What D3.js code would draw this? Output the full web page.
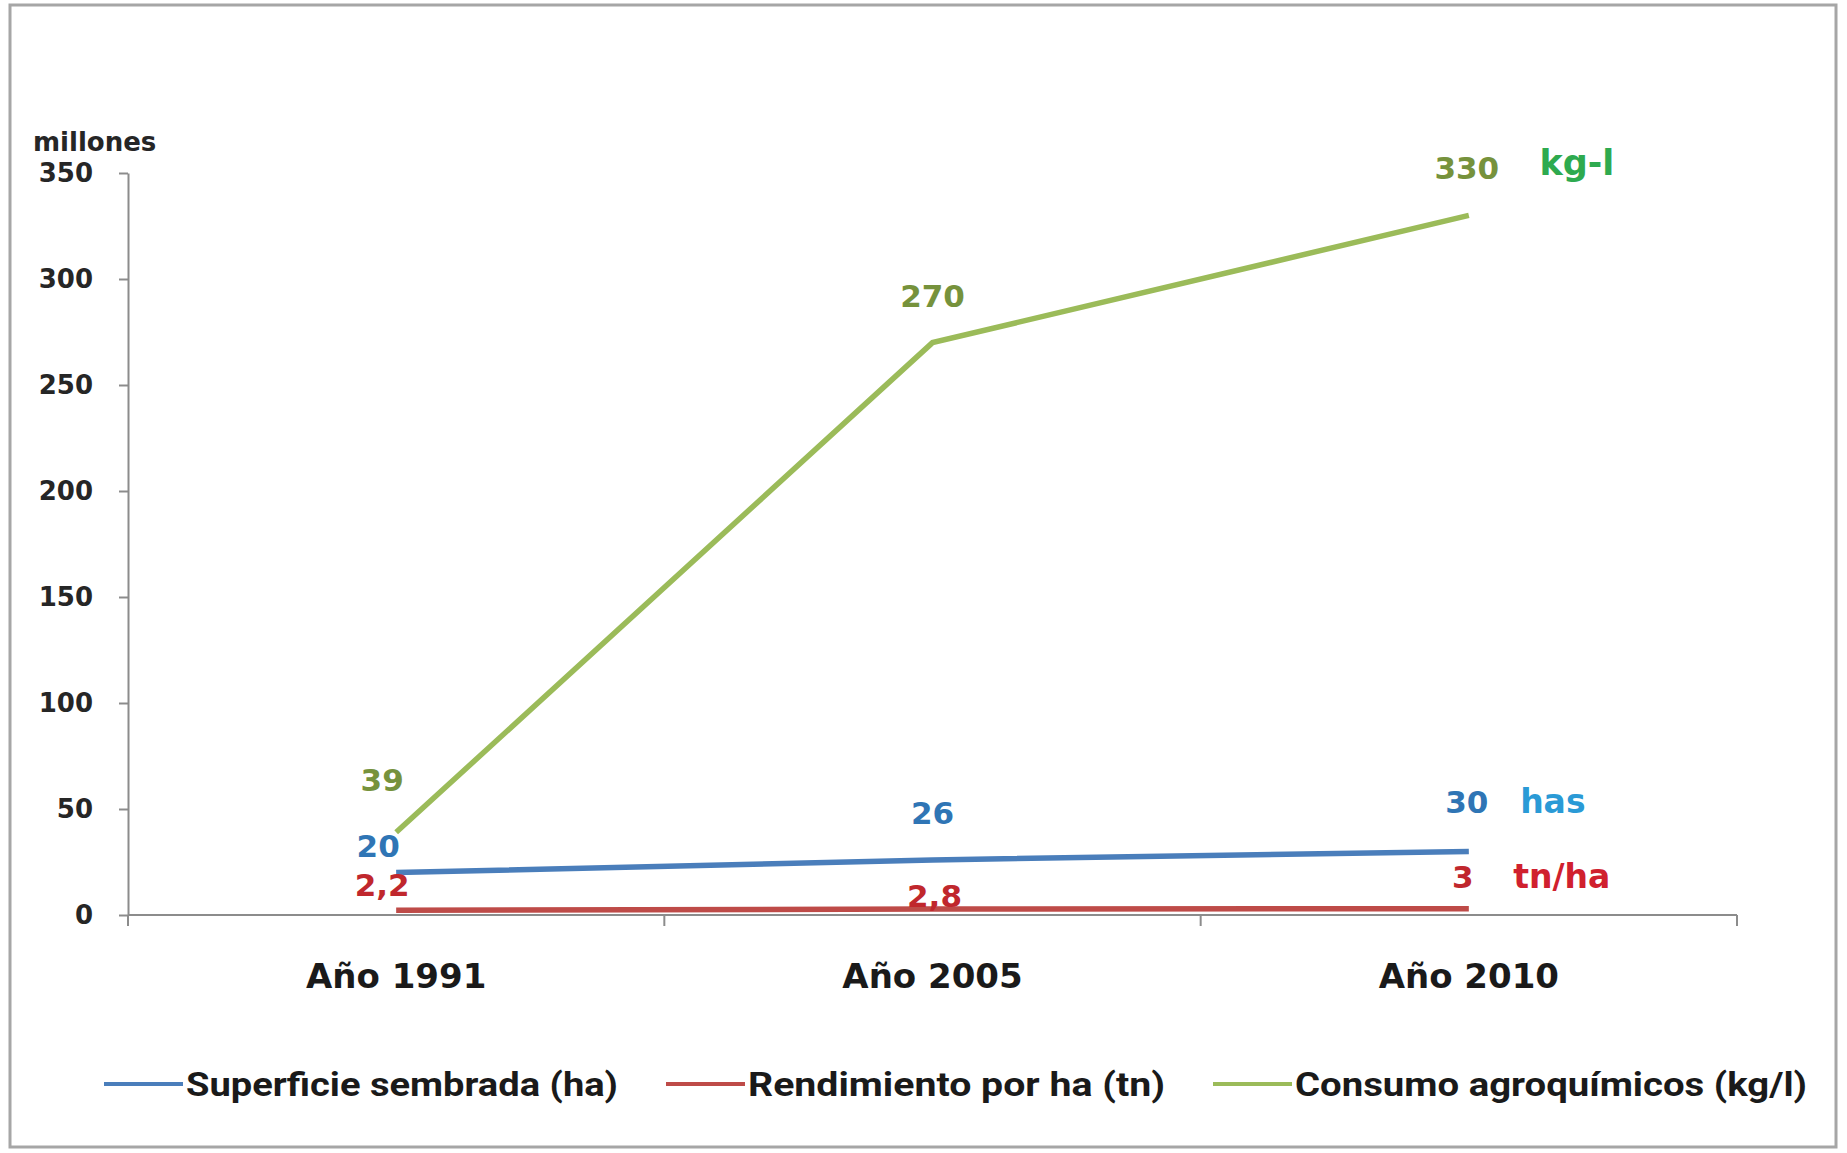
<!DOCTYPE html>
<html><head><meta charset="utf-8">
<script src="https://cdn.jsdelivr.net/npm/d3@7"></script>
<style>
html,body{margin:0;padding:0;background:#fff;}
svg text{font-family:"DejaVu Sans",Verdana,sans-serif;font-weight:bold;}
</style></head>
<body><svg id="c" width="1847" height="1153"></svg>
<script>
const categories = ["Año 1991", "Año 2005", "Año 2010"];
const superficie = [20, 26, 30];
const rendimiento = [2.2, 2.8, 3];
const consumo = [39, 270, 330];
const superficieLabels = ["20", "26", "30"];
const rendimientoLabels = ["2,2", "2,8", "3"];
const consumoLabels = ["39", "270", "330"];
const seriesNames = ["Superficie sembrada (ha)", "Rendimiento por ha (tn)", "Consumo agroquímicos (kg/l)"];
const unitLabels = ["has", "tn/ha", "kg-l"];
const yTicks = [0, 50, 100, 150, 200, 250, 300, 350];
const yUnit = "millones";

(function () {
const svg = d3.select("#c");
svg.append("rect").attr("x", 10).attr("y", 5).attr("width", 1826).attr("height", 1142)
  .attr("fill", "#fff").attr("stroke", "#a6a6a6").attr("stroke-width", 3);

const pLeft = 128, pRight = 1737, pTop = 173, pBottom = 915;
const x = d3.scaleBand().domain(categories).range([pLeft, pRight]).padding(0);
const y = d3.scaleLinear().domain([0, 350]).range([pBottom, pTop]);
const cx = c => x(c) + x.bandwidth() / 2;

const ya = svg.append("g").attr("transform", `translate(${pLeft},0)`)
  .call(d3.axisLeft(y).tickValues(yTicks).tickSize(9).tickSizeOuter(0).tickPadding(26));
ya.select(".domain").attr("stroke", "#8c8c8c").attr("stroke-width", 2);
ya.selectAll(".tick line").attr("stroke", "#8c8c8c").attr("stroke-width", 2);
ya.selectAll(".tick text").attr("font-size", 26).attr("fill", "#262626");

svg.append("text").attr("x", 33).attr("y", 151).attr("font-size", 26).attr("fill", "#262626").text(yUnit);

const xa = svg.append("g").attr("transform", `translate(0,${pBottom})`);
xa.append("line").attr("x1", pLeft).attr("x2", pRight).attr("y1", 0).attr("y2", 0)
  .attr("stroke", "#8c8c8c").attr("stroke-width", 2);
const bounds = categories.map(c => x(c)).concat([x(categories[categories.length - 1]) + x.bandwidth()]);
xa.selectAll("line.t").data(bounds).enter().append("line").attr("class", "t")
  .attr("x1", d => d).attr("x2", d => d).attr("y1", 0).attr("y2", 11)
  .attr("stroke", "#8c8c8c").attr("stroke-width", 2);
xa.selectAll("text.c").data(categories).enter().append("text").attr("class", "c")
  .attr("x", d => cx(d)).attr("y", 73).attr("text-anchor", "middle")
  .attr("font-size", 34).attr("fill", "#1a1a1a").text(d => d);

const series = [
  {vals: superficie, labels: superficieLabels, color: "#4a7ebb", lab: "#2f75b5", unitColor: "#2a9ad6",
   off: [[-18, -16], [0, -36], [-2, -38]], unitDx: 86},
  {vals: rendimiento, labels: rendimientoLabels, color: "#be4b48", lab: "#c0272d", unitColor: "#d0202e",
   off: [[-14, -14], [2, -2], [-6, -21]], unitDx: 99},
  {vals: consumo, labels: consumoLabels, color: "#9bbb59", lab: "#76923c", unitColor: "#2eaa4f",
   off: [[-14, -41], [0, -36], [-2, -36]], unitDx: 110}
];
const line = d3.line().x((d, i) => cx(categories[i])).y(d => y(d));
series.forEach(s => {
  svg.append("path").datum(s.vals).attr("d", line).attr("fill", "none")
    .attr("stroke", s.color).attr("stroke-width", 5.5);
});
series.forEach((s, k) => {
  svg.selectAll(null).data(s.vals).enter().append("text")
    .attr("x", (d, i) => cx(categories[i]) + s.off[i][0])
    .attr("y", (d, i) => y(d) + s.off[i][1])
    .attr("text-anchor", "middle").attr("font-size", 31).attr("fill", s.lab)
    .text((d, i) => s.labels[i]);
  const li = s.vals.length - 1;
  svg.append("text")
    .attr("x", cx(categories[li]) + s.off[li][0] + s.unitDx)
    .attr("y", y(s.vals[li]) + s.off[li][1] - (k === 2 ? 4 : 0))
    .attr("text-anchor", "middle").attr("font-size", k === 2 ? 35 : 33).attr("fill", s.unitColor)
    .text(unitLabels[k]);
});

const legX = [104, 666, 1213];
const legW = [432, 417, 512];
series.forEach((s, k) => {
  const g = svg.append("g").attr("transform", `translate(${legX[k]},1084)`);
  g.append("line").attr("x1", 0).attr("x2", 79).attr("y1", 0).attr("y2", 0)
    .attr("stroke", s.color).attr("stroke-width", 4);
  g.append("text").attr("x", 82).attr("y", 12)
    .style("font-family", "'Liberation Sans Narrow','Roboto','Open Sans',sans-serif")
    .style("font-weight", "bold").style("font-size", "34px")
    .attr("fill", "#1a1a1a").attr("textLength", legW[k]).attr("lengthAdjust", "spacingAndGlyphs")
    .text(seriesNames[k]);
});
})();
</script></body></html>
